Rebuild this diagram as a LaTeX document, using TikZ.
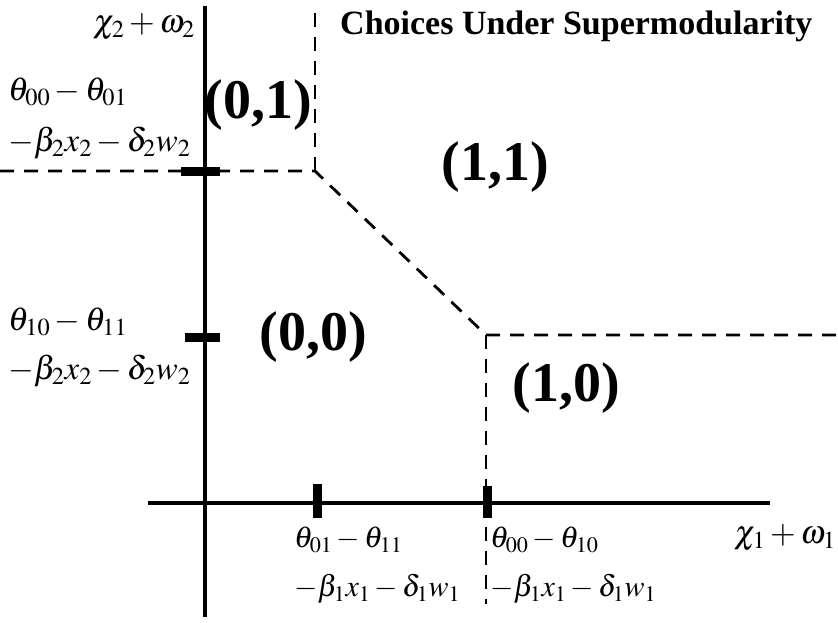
\documentclass[tikz,border=0pt]{standalone}
\usepackage{mathptmx}
\usepackage{fontspec}
\setmainfont{Liberation Serif}
\usetikzlibrary{positioning}

\begin{document}
\begin{tikzpicture}[x=1pt,y=-1pt,
  axis/.style={line width=4pt},
  tickmark/.style={line width=9pt},
  bound/.style={line width=2.8pt, dash pattern=on 14pt off 10pt},
  lab/.style={font=\fontsize{33}{35}\selectfont, inner sep=0pt},
  xlab/.style={font=\fontsize{30}{32}\selectfont, inner sep=0pt},
  pair/.style={font=\fontsize{56}{56}\selectfont\bfseries, inner sep=0pt}]
\useasboundingbox (0,0) rectangle (838,622);
% axes
\coordinate (ytop) at (205,6);
\coordinate (ybot) at (205,617);
\coordinate (xl) at (148,503);
\coordinate (xr) at (770,503);
\draw[axis] (ytop) -- (ybot);
\draw[axis] (xl) -- (xr);
% thresholds
\coordinate (A) at (315,171);
\coordinate (B) at (486,335);
\coordinate (ya) at (205,171);
\coordinate (yb) at (205,337);
\coordinate (xa) at (317,503);
\coordinate (xb) at (487,503);
\draw[tickmark] ([xshift=-24pt]ya) -- ([xshift=15pt]ya);
\draw[tickmark] ([xshift=-20pt]yb) -- ([xshift=15pt]yb);
\draw[tickmark] ([yshift=-15pt]xa) -- ([yshift=19pt]xa);
\draw[tickmark] ([yshift=-15pt]xb) -- ([yshift=17pt]xb);
% regions
\draw[bound] (0,171) -- (A) -- (B) -- (838,335);
\draw[bound] (A) -- (315,4);
\draw[bound] (B) -- (486,604);
\node[lab, anchor=east] (ylab) at (195,27) {$\chi_2+\omega_2$};
\node[lab, anchor=east] (xlab) at (836,538) {$\chi_1+\omega_1$};
\node[lab, anchor=west] (ya1) at (8,92) {$\theta_{00}-\theta_{01}$};
\node[lab, anchor=west] (ya2) at (8,143) {$-\beta_2x_2-\delta_2w_2$};
\node[lab, anchor=west] (yb1) at (8,322) {$\theta_{10}-\theta_{11}$};
\node[lab, anchor=west] (yb2) at (8,371) {$-\beta_2x_2-\delta_2w_2$};
\node[xlab, anchor=west] (xa1) at (294,540) {$\theta_{01}-\theta_{11}$};
\node[xlab, anchor=west] (xa2) at (294,589) {$-\beta_1x_1-\delta_1w_1$};
\node[xlab, anchor=west] (xb1) at (490,540) {$\theta_{00}-\theta_{10}$};
\node[xlab, anchor=west] (xb2) at (490,589) {$-\beta_1x_1-\delta_1w_1$};
\node[pair] (p01) at (258,105) {(0,1)};
\node[pair] (p11) at (495,167) {(1,1)};
\node[pair] (p00) at (313,337) {(0,0)};
\node[pair] (p10) at (566,388) {(1,0)};
\node[anchor=west, inner sep=0pt, font=\fontsize{34}{34}\selectfont\bfseries] (title) at (340,26) {Choices Under Supermodularity};
\end{tikzpicture}
\end{document}
